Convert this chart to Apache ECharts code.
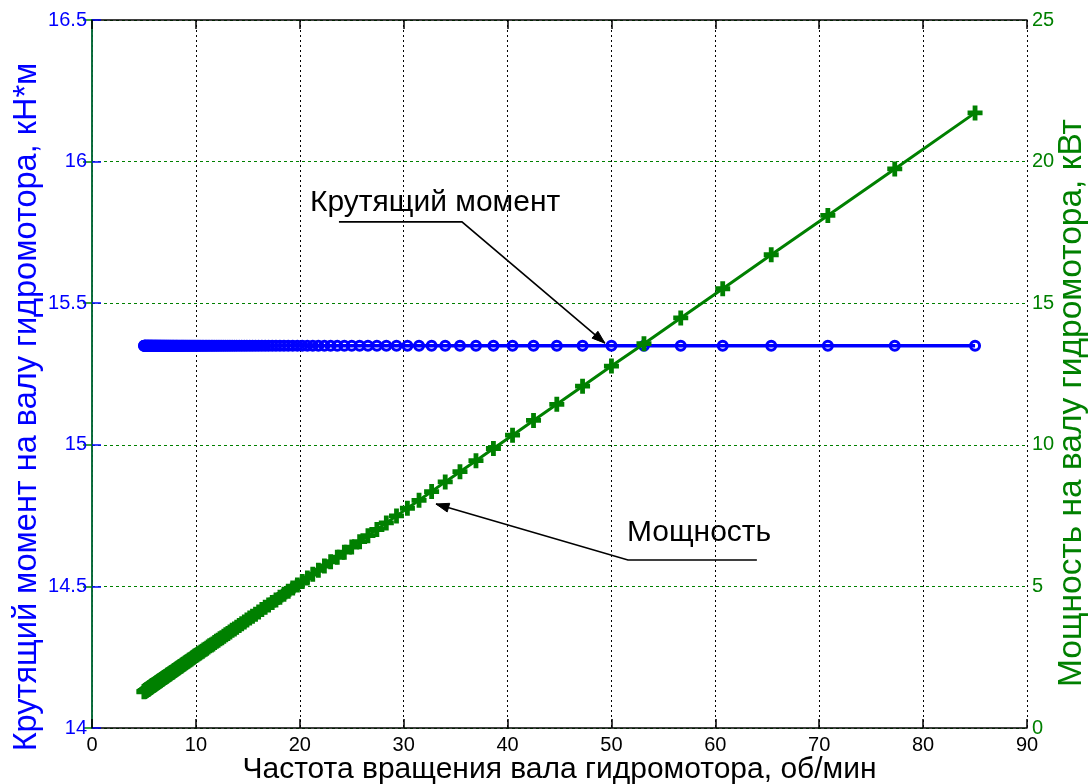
<!DOCTYPE html>
<html>
<head>
<meta charset="utf-8">
<script src="https://cdn.jsdelivr.net/npm/echarts@6/dist/echarts.min.js"></script>
<style>
  html, body { margin: 0; padding: 0; background: #fff; }
  #chart { width: 1088px; height: 784px; }
</style>
</head>
<body>
<div id="chart"></div>
<script>
// Shaft speed of the hydraulic motor, rpm
const speed = [
  85.00, 77.27, 70.83, 65.38, 60.71, 56.67, 53.13, 50.00, 47.22, 44.74,
  42.50, 40.48, 38.64, 36.96, 35.42, 34.00, 32.69, 31.48, 30.36, 29.31,
  28.33, 27.42, 26.56, 25.76, 25.00, 24.29, 23.61, 22.97, 22.37, 21.79,
  21.25, 20.73, 20.24, 19.77, 19.32, 18.89, 18.48, 18.09, 17.71, 17.35,
  17.00, 16.67, 16.35, 16.04, 15.74, 15.45, 15.18, 14.91, 14.66, 14.41,
  14.17, 13.93, 13.71, 13.49, 13.28, 13.08, 12.88, 12.69, 12.50, 12.32,
  12.14, 11.97, 11.81, 11.64, 11.49, 11.33, 11.18, 11.04, 10.90, 10.76,
  10.63, 10.49, 10.37, 10.24, 10.12, 10.00, 9.88, 9.77, 9.66, 9.55,
  9.44, 9.34, 9.24, 9.14, 9.04, 8.95, 8.85, 8.76, 8.67, 8.59,
  8.50, 8.42, 8.33, 8.25, 8.17, 8.10, 8.02, 7.94, 7.87, 7.80,
  7.73, 7.66, 7.59, 7.52, 7.46, 7.39, 7.33, 7.26, 7.20, 7.14,
  7.08, 7.02, 6.97, 6.91, 6.85, 6.80, 6.75, 6.69, 6.64, 6.59,
  6.54, 6.49, 6.44, 6.39, 6.34, 6.30, 6.25, 6.20, 6.16, 6.12,
  6.07, 6.03, 5.99, 5.94, 5.90, 5.86, 5.82, 5.78, 5.74, 5.70,
  5.67, 5.63, 5.59, 5.56, 5.52, 5.48, 5.45, 5.41, 5.38, 5.35,
  5.31, 5.28, 5.25, 5.21, 5.18, 5.15, 5.12, 5.09, 5.06, 5.03,
  5.00
];

// Shaft torque, kN*m
const torque = [
  15.35, 15.35, 15.35, 15.35, 15.35, 15.35, 15.35, 15.35, 15.35, 15.35,
  15.35, 15.35, 15.35, 15.35, 15.35, 15.35, 15.35, 15.35, 15.35, 15.35,
  15.35, 15.35, 15.35, 15.35, 15.35, 15.35, 15.35, 15.35, 15.35, 15.35,
  15.35, 15.35, 15.35, 15.35, 15.35, 15.35, 15.35, 15.35, 15.35, 15.35,
  15.35, 15.35, 15.35, 15.35, 15.35, 15.35, 15.35, 15.35, 15.35, 15.35,
  15.35, 15.35, 15.35, 15.35, 15.35, 15.35, 15.35, 15.35, 15.35, 15.35,
  15.35, 15.35, 15.35, 15.35, 15.35, 15.35, 15.35, 15.35, 15.35, 15.35,
  15.35, 15.35, 15.35, 15.35, 15.35, 15.35, 15.35, 15.35, 15.35, 15.35,
  15.35, 15.35, 15.35, 15.35, 15.35, 15.35, 15.35, 15.35, 15.35, 15.35,
  15.35, 15.35, 15.35, 15.35, 15.35, 15.35, 15.35, 15.35, 15.35, 15.35,
  15.35, 15.35, 15.35, 15.35, 15.35, 15.35, 15.35, 15.35, 15.35, 15.35,
  15.35, 15.35, 15.35, 15.35, 15.35, 15.35, 15.35, 15.35, 15.35, 15.35,
  15.35, 15.35, 15.35, 15.35, 15.35, 15.35, 15.35, 15.35, 15.35, 15.35,
  15.35, 15.35, 15.35, 15.35, 15.35, 15.35, 15.35, 15.35, 15.35, 15.35,
  15.35, 15.35, 15.35, 15.35, 15.35, 15.35, 15.35, 15.35, 15.35, 15.35,
  15.35, 15.35, 15.35, 15.35, 15.35, 15.35, 15.35, 15.35, 15.35, 15.35,
  15.35
];

// Shaft power, kW
const power = [
  21.72, 19.74, 18.10, 16.71, 15.51, 14.48, 13.57, 12.78, 12.07, 11.43,
  10.86, 10.34, 9.87, 9.44, 9.05, 8.69, 8.35, 8.04, 7.76, 7.49,
  7.24, 7.01, 6.79, 6.58, 6.39, 6.21, 6.03, 5.87, 5.72, 5.57,
  5.43, 5.30, 5.17, 5.05, 4.94, 4.83, 4.72, 4.62, 4.52, 4.43,
  4.34, 4.26, 4.18, 4.10, 4.02, 3.95, 3.88, 3.81, 3.74, 3.68,
  3.62, 3.56, 3.50, 3.45, 3.39, 3.34, 3.29, 3.24, 3.19, 3.15,
  3.10, 3.06, 3.02, 2.97, 2.93, 2.90, 2.86, 2.82, 2.78, 2.75,
  2.71, 2.68, 2.65, 2.62, 2.59, 2.56, 2.53, 2.50, 2.47, 2.44,
  2.41, 2.39, 2.36, 2.34, 2.31, 2.29, 2.26, 2.24, 2.22, 2.19,
  2.17, 2.15, 2.13, 2.11, 2.09, 2.07, 2.05, 2.03, 2.01, 1.99,
  1.97, 1.96, 1.94, 1.92, 1.91, 1.89, 1.87, 1.86, 1.84, 1.82,
  1.81, 1.79, 1.78, 1.77, 1.75, 1.74, 1.72, 1.71, 1.70, 1.68,
  1.67, 1.66, 1.65, 1.63, 1.62, 1.61, 1.60, 1.59, 1.57, 1.56,
  1.55, 1.54, 1.53, 1.52, 1.51, 1.50, 1.49, 1.48, 1.47, 1.46,
  1.45, 1.44, 1.43, 1.42, 1.41, 1.40, 1.39, 1.38, 1.37, 1.37,
  1.36, 1.35, 1.34, 1.33, 1.32, 1.32, 1.31, 1.30, 1.29, 1.29,
  1.28
];

// Axis ranges and tick labels
const speedTicks = [0, 10, 20, 30, 40, 50, 60, 70, 80, 90];
const torqueTicks = ['14', '14.5', '15', '15.5', '16', '16.5'];
const powerTicks = [0, 5, 10, 15, 20, 25];

// Text callouts in (speed, torque-axis) units: caption anchor, leader start, bend, arrow tip
const callouts = [
  { text: 'Крутящий момент', at: [20.98, 15.854], start: [23.77, 15.787], bend: [35.61, 15.787], tip: [49.37, 15.359] },
  { text: 'Мощность', at: [51.49, 14.689], start: [64.00, 14.593], bend: [51.59, 14.593], tip: [33.11, 14.791] }
];

const FONT = '"Liberation Sans", Arial, sans-serif';
const BLUE = '#0000ff';
const GREEN = '#008000';

const chart = echarts.init(document.getElementById('chart'), null, { renderer: 'canvas' });

const torqueData = speed.map((s, i) => [s, torque[i]]);
const powerData = speed.map((s, i) => [s, power[i]]);

const plusPath = 'path://M3.4,0H6.6V3.4H10V6.6H6.6V10H3.4V6.6H0V3.4H3.4Z';

chart.setOption({
  animation: false,
  backgroundColor: '#fff',
  grid: { left: 92, right: 61, top: 20, bottom: 56, containLabel: false, outerBoundsMode: 'none' },
  xAxis: [
    {
      type: 'value',
      min: speedTicks[0], max: speedTicks[speedTicks.length - 1], interval: 10,
      position: 'bottom',
      name: 'Частота вращения вала гидромотора, об/мин',
      nameLocation: 'middle', nameGap: 27, nameMoveOverlap: false,
      nameTextStyle: { color: '#000', fontSize: 30, fontFamily: FONT },
      axisLine: { lineStyle: { color: '#000', width: 1.5 } },
      axisTick: { inside: true, length: 9, lineStyle: { color: '#000', width: 1.5 } },
      axisLabel: { color: '#000', fontSize: 20, fontFamily: FONT, margin: 7 },
      splitLine: { show: true, lineStyle: { color: '#000', type: [2, 3], width: 1 } }
    },
    {
      type: 'value',
      min: speedTicks[0], max: speedTicks[speedTicks.length - 1], interval: 10,
      position: 'top',
      axisLine: { lineStyle: { color: '#000', width: 1.5 } },
      axisTick: { inside: true, length: 9, lineStyle: { color: '#000', width: 1.5 } },
      axisLabel: { show: false },
      splitLine: { show: false }
    }
  ],
  yAxis: [
    {
      type: 'value',
      min: 14, max: 16.5, interval: 0.5,
      position: 'left',
      name: 'Крутящий момент на валу гидромотора, кН*м',
      nameLocation: 'middle', nameRotate: 90, nameGap: 48, nameMoveOverlap: false,
      nameTextStyle: { color: BLUE, fontSize: 32.5, fontFamily: FONT, padding: [0, 66, 0, 0] },
      axisLine: { lineStyle: { color: BLUE, width: 1.5 } },
      axisTick: { inside: true, length: 9, lineStyle: { color: BLUE, width: 1.5 } },
      axisLabel: {
        color: BLUE, fontSize: 20, fontFamily: FONT, margin: 5,
        formatter: v => torqueTicks[Math.round((v - 14) / 0.5)]
      },
      splitLine: { show: false }
    },
    {
      type: 'value',
      min: powerTicks[0], max: powerTicks[powerTicks.length - 1], interval: 5,
      position: 'right',
      name: 'Мощность на валу гидромотора, кВт',
      nameLocation: 'middle', nameRotate: 90, nameGap: 28, nameMoveOverlap: false,
      nameTextStyle: { color: GREEN, fontSize: 33.5, fontFamily: FONT, padding: [0, 58, 0, 0] },
      axisLine: { lineStyle: { color: GREEN, width: 1.5 } },
      axisTick: { inside: true, length: 9, lineStyle: { color: GREEN, width: 1.5 } },
      axisLabel: { color: GREEN, fontSize: 20, fontFamily: FONT, margin: 5 },
      splitLine: { show: true, lineStyle: { color: GREEN, type: [3, 3], width: 1 } }
    }
  ],
  series: [
    {
      name: 'Крутящий момент',
      type: 'line',
      xAxisIndex: 0, yAxisIndex: 0,
      data: torqueData,
      showSymbol: true, showAllSymbol: true,
      symbol: 'circle', symbolSize: 9,
      itemStyle: { color: 'rgba(0,0,0,0)', borderColor: BLUE, borderWidth: 3 },
      lineStyle: { color: BLUE, width: 3.5 },
      z: 3
    },
    {
      name: 'Мощность',
      type: 'line',
      xAxisIndex: 0, yAxisIndex: 1,
      data: powerData,
      showSymbol: true, showAllSymbol: true,
      symbol: plusPath, symbolSize: 15,
      itemStyle: { color: GREEN, borderWidth: 0 },
      lineStyle: { color: GREEN, width: 3 },
      z: 4
    }
  ]
});

// Callout captions and leader arrows, positioned through the torque axis scale
const toPx = v => chart.convertToPixel({ xAxisIndex: 0, yAxisIndex: 0 }, v);
const graphics = [];
callouts.forEach(c => {
  const a = toPx(c.at), s = toPx(c.start), b = toPx(c.bend), t = toPx(c.tip);
  graphics.push({
    type: 'text', x: a[0], y: a[1], z: 10,
    style: { text: c.text, fill: '#000', font: '30px ' + FONT, verticalAlign: 'middle', align: 'left' }
  });
  graphics.push({
    type: 'polyline', z: 10,
    shape: { points: [s, b, t] },
    style: { stroke: '#000', lineWidth: 1.6, fill: null }
  });
  const dx = t[0] - b[0], dy = t[1] - b[1], len = Math.hypot(dx, dy);
  const ux = dx / len, uy = dy / len, L = 13, W = 4.5;
  const bx = t[0] - ux * L, by = t[1] - uy * L;
  graphics.push({
    type: 'polygon', z: 10,
    shape: { points: [t, [bx - uy * W, by + ux * W], [bx + uy * W, by - ux * W]] },
    style: { fill: '#000', stroke: '#000', lineWidth: 1 }
  });
});
chart.setOption({ graphic: graphics });
</script>
</body>
</html>
